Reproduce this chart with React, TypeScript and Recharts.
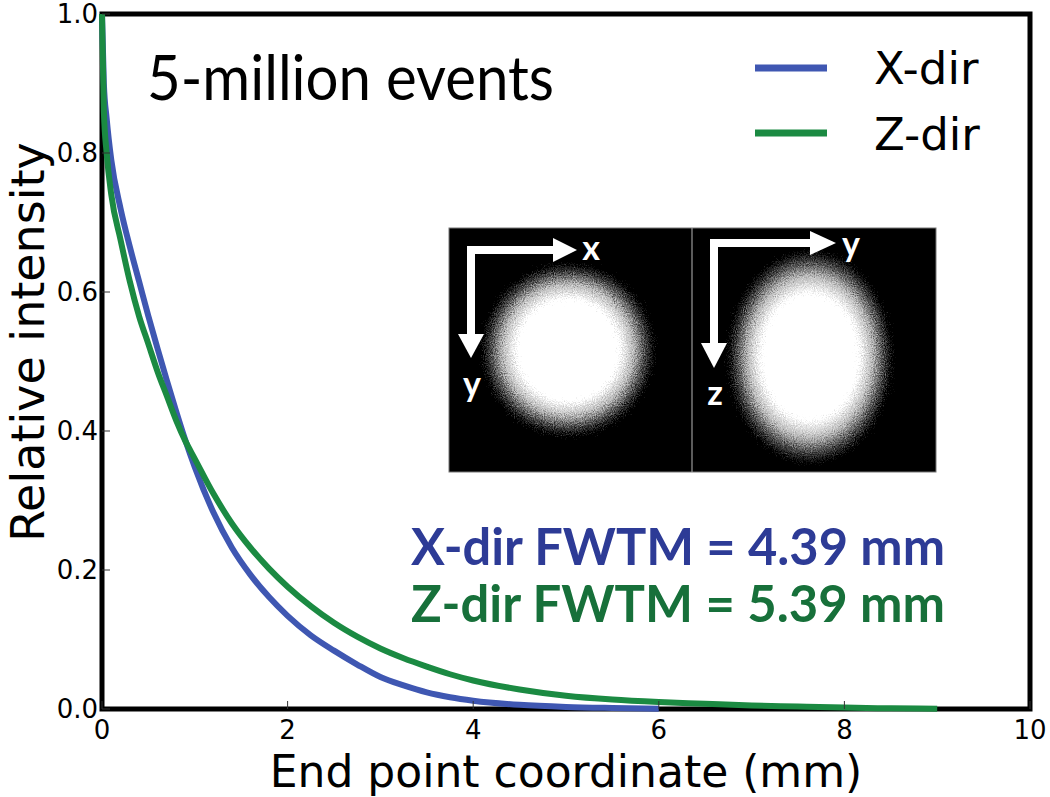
import { LineChart, Line, XAxis, YAxis, ReferenceArea } from 'recharts';

// sample positions along the end point coordinate (mm)
const coords = [
  0, 0.02, 0.05, 0.1, 0.2, 0.3, 0.4, 0.5, 0.6, 0.7, 0.8, 0.9, 1.0, 1.2, 1.4, 1.6, 1.8, 2.0, 2.25, 2.5,
  2.75, 3.0, 3.25, 3.5, 3.75, 4.0, 4.5, 5.0, 5.5, 6.0, 6.5, 7.0, 7.5, 8.0, 8.5, 9.0,
];
const xDir = [
  1.0, 0.9, 0.85, 0.79, 0.72, 0.665, 0.615, 0.565, 0.518, 0.472, 0.428, 0.386, 0.348, 0.283, 0.232,
  0.193, 0.161, 0.134, 0.106, 0.084, 0.064, 0.046, 0.034, 0.024, 0.017, 0.012, 0.006, 0.003, 0.0015,
  0.0005, null, null, null, null, null, null,
];
const zDir = [
  1.0, 0.86, 0.8, 0.74, 0.675, 0.615, 0.565, 0.525, 0.485, 0.45, 0.415, 0.385, 0.36, 0.31, 0.267,
  0.232, 0.202, 0.176, 0.148, 0.124, 0.104, 0.087, 0.073, 0.061, 0.05, 0.041, 0.028, 0.019, 0.0135,
  0.01, 0.0075, 0.005, 0.0035, 0.002, 0.001, 0.0003,
];
const xTicks = [0, 2, 4, 6, 8, 10];
const yTicks = [0, 0.2, 0.4, 0.6, 0.8, 1.0];

const rows = coords.map((x, i) => ({ x, xdir: xDir[i], zdir: zDir[i] }));

const BLUE = '#3f57b2';
const GREEN = '#1b8a42';
const tickFont = '"DejaVu Sans", sans-serif';
const titleFont = 'Lato, "DejaVu Sans", sans-serif';

function BottomTick(props: any) {
  const { x, y, payload } = props;
  return (
    <g>
      <line x1={x} y1={y} x2={x} y2={y - 8} stroke="#333" strokeWidth={1} />
      <text x={x} y={y + 30} textAnchor="middle" fontSize={26} fontFamily={tickFont} fill="#000">
        {payload.value}
      </text>
    </g>
  );
}

function TopTick(props: any) {
  const { x, y } = props;
  return <line x1={x} y1={y} x2={x} y2={y + 8} stroke="#333" strokeWidth={1} />;
}

function LeftTick(props: any) {
  const { x, y, payload } = props;
  return (
    <g>
      <line x1={x} y1={y} x2={x + 8} y2={y} stroke="#333" strokeWidth={1} />
      <text x={x - 4} y={y + 9} textAnchor="end" fontSize={26} fontFamily={tickFont} fill="#000">
        {payload.value.toFixed(1)}
      </text>
    </g>
  );
}

function RightTick(props: any) {
  const { x, y } = props;
  return <line x1={x} y1={y} x2={x - 8} y2={y} stroke="#333" strokeWidth={1} />;
}

function Inset() {
  return (
    <g>
      <defs>
        <radialGradient id="spot">
          <stop offset="0" stopColor="#fff" />
          <stop offset="0.6" stopColor="#fff" />
          <stop offset="0.76" stopColor="#bbb" />
          <stop offset="0.9" stopColor="#444" />
          <stop offset="1" stopColor="#000" />
        </radialGradient>
        <filter id="grain" x="-20%" y="-20%" width="140%" height="140%">
          <feTurbulence type="fractalNoise" baseFrequency="0.9" numOctaves={2} seed={5} result="noise" />
          <feDisplacementMap in="SourceGraphic" in2="noise" scale={22} xChannelSelector="R" yChannelSelector="G" />
        </filter>
      </defs>
      <rect x={449} y={228} width={487} height={244} fill="#000" stroke="#777" strokeWidth={1} />
      <g filter="url(#grain)">
        <circle cx={568} cy={350} r={86} fill="url(#spot)" />
        <ellipse cx={810} cy={357} rx={82} ry={106} fill="url(#spot)" />
      </g>
      <line x1={692} y1={228} x2={692} y2={472} stroke="#999" strokeWidth={1.2} />
      <g fill="#fff" stroke="none">
        <rect x={467} y={246} width={88} height={8} />
        <polygon points="553,238 577,250 553,262" />
        <rect x={467} y={246} width={8} height={90} />
        <polygon points="458,334 471,358 484,334" />
        <rect x={710} y={239} width={102} height={8} />
        <polygon points="810,231 836,243 810,255" />
        <rect x={710} y={239} width={8} height={106} />
        <polygon points="701,343 714,368 727,343" />
      </g>
      <g fill="#fff" fontFamily={titleFont} fontWeight={700} fontSize={34}>
        <text x={591} y={260} textAnchor="middle">x</text>
        <text x={472} y={396} textAnchor="middle">y</text>
        <text x={851} y={256} textAnchor="middle">y</text>
        <text x={715} y={405} textAnchor="middle">z</text>
      </g>
    </g>
  );
}

function Annotations() {
  return (
    <svg
      width={1050}
      height={797}
      style={{ position: 'absolute', left: 0, top: 0, pointerEvents: 'none' }}
    >
      <Inset />
      <text x={147} y={100} fontFamily={titleFont} fontSize={62} textLength={407} lengthAdjust="spacingAndGlyphs" fill="#000">
        5-million events
      </text>

      <line x1={755} y1={68} x2={827} y2={68} stroke={BLUE} strokeWidth={7} />
      <line x1={755} y1={133} x2={827} y2={133} stroke={GREEN} strokeWidth={7} />
      <text x={874} y={84} fontFamily={tickFont} fontSize={45} fill="#000">X-dir</text>
      <text x={874} y={150} fontFamily={tickFont} fontSize={45} fill="#000">Z-dir</text>

      <text x={411} y={565} fontFamily={titleFont} fontWeight={700} fontSize={52} textLength={534} lengthAdjust="spacingAndGlyphs" fill="#2d3b96">
        X-dir FWTM = 4.39 mm
      </text>
      <text x={411} y={622} fontFamily={titleFont} fontWeight={700} fontSize={52} textLength={534} lengthAdjust="spacingAndGlyphs" fill="#17703a">
        Z-dir FWTM = 5.39 mm
      </text>

      <text x={566} y={787} textAnchor="middle" fontFamily={tickFont} fontSize={44} fill="#000">
        End point coordinate (mm)
      </text>
      <text
        x={0}
        y={0}
        transform="translate(44 342) rotate(-90)"
        textAnchor="middle"
        fontFamily={tickFont}
        fontSize={46}
        fill="#000"
      >
        Relative intensity
      </text>
    </svg>
  );
}

export default function App() {
  return (
    <div style={{ position: 'absolute', left: 0, top: 0, width: 1050, height: 797, background: '#fff' }}>
      <LineChart width={1050} height={797} data={rows} margin={{ top: 14, right: 20, bottom: 28, left: 32 }}>
        <XAxis
          xAxisId="b"
          dataKey="x"
          type="number"
          domain={[0, 10]}
          ticks={xTicks}
          height={60}
          tickSize={0}
          tickMargin={0}
          axisLine={false}
          tick={<BottomTick />}
        />
        <XAxis
          xAxisId="t"
          orientation="top"
          dataKey="x"
          type="number"
          domain={[0, 10]}
          allowDataOverflow
          ticks={xTicks}
          height={0}
          tickSize={0}
          tickMargin={0}
          axisLine={false}
          tick={<TopTick />}
        />
        <YAxis
          yAxisId="l"
          type="number"
          domain={[0, 1]}
          ticks={yTicks}
          width={70}
          tickSize={0}
          tickMargin={0}
          axisLine={false}
          tick={<LeftTick />}
        />
        <YAxis
          yAxisId="r"
          orientation="right"
          type="number"
          domain={[0, 1]}
          allowDataOverflow
          ticks={yTicks}
          width={0}
          tickSize={0}
          tickMargin={0}
          axisLine={false}
          tick={<RightTick />}
        />
        <Line
          xAxisId="b"
          yAxisId="l"
          type="monotone"
          dataKey="xdir"
          stroke={BLUE}
          strokeWidth={6}
          dot={false}
          isAnimationActive={false}
        />
        <Line
          xAxisId="b"
          yAxisId="l"
          type="monotone"
          dataKey="zdir"
          stroke={GREEN}
          strokeWidth={6}
          dot={false}
          isAnimationActive={false}
        />
        <ReferenceArea
          xAxisId="b"
          yAxisId="l"
          x1={0}
          x2={10}
          y1={0}
          y2={1}
          fill="none"
          fillOpacity={0}
          stroke="#000"
          strokeWidth={5}
          ifOverflow="visible"
        />
      </LineChart>
      <Annotations />
    </div>
  );
}
